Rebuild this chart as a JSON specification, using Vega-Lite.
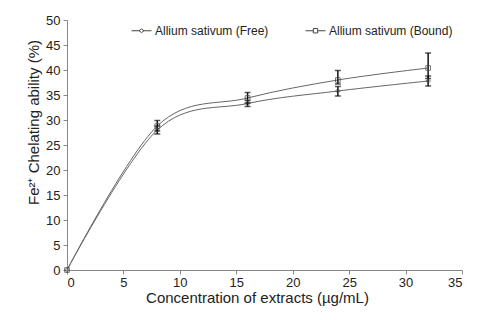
{
  "$schema": "https://vega.github.io/schema/vega-lite/v6.json",
  "width": 395,
  "height": 250,
  "autosize": {"type": "none"},
  "padding": {"left": 67, "top": 20, "right": 38, "bottom": 50},
  "background": "white",
  "config": {
    "font": "Liberation Sans",
    "view": {"stroke": null},
    "axis": {
      "grid": false,
      "domainColor": "#888888",
      "tickColor": "#888888",
      "tickSize": 4,
      "labelFontSize": 13,
      "labelColor": "#222222",
      "labelOverlap": false,
      "titleFontSize": 15,
      "titleFontWeight": "normal",
      "titleColor": "#222222"
    },
    "legend": {"labelFontSize": 12, "labelColor": "#222222"}
  },
  "data": {
    "values": [
      {"conc": 0, "series": "Allium sativum (Free)", "value": 0, "lo": 0, "hi": 0},
      {"conc": 8, "series": "Allium sativum (Free)", "value": 28.0, "lo": 27.2, "hi": 28.8},
      {"conc": 16, "series": "Allium sativum (Free)", "value": 33.3, "lo": 32.7, "hi": 33.9},
      {"conc": 24, "series": "Allium sativum (Free)", "value": 35.8, "lo": 34.8, "hi": 36.7},
      {"conc": 32, "series": "Allium sativum (Free)", "value": 37.8, "lo": 36.8, "hi": 38.8},
      {"conc": 0, "series": "Allium sativum (Bound)", "value": 0, "lo": 0, "hi": 0},
      {"conc": 8, "series": "Allium sativum (Bound)", "value": 28.8, "lo": 27.8, "hi": 29.9},
      {"conc": 16, "series": "Allium sativum (Bound)", "value": 34.4, "lo": 33.4, "hi": 35.5},
      {"conc": 24, "series": "Allium sativum (Bound)", "value": 38.0, "lo": 37.2, "hi": 39.9},
      {"conc": 32, "series": "Allium sativum (Bound)", "value": 40.4, "lo": 38.3, "hi": 43.4}
    ]
  },
  "encoding": {
    "x": {
      "field": "conc", "type": "quantitative",
      "scale": {"domain": [0, 35]},
      "axis": {"values": [0, 5, 10, 15, 20, 25, 30, 35], "title": "Concentration of extracts (µg/mL)", "titlePadding": 1, "labelPadding": 2, "titleX": 190}
    }
  },
  "layer": [
    {
      "mark": {"type": "line", "interpolate": "cardinal", "color": "#666666", "strokeWidth": 1},
      "encoding": {
        "y": {
          "field": "value", "type": "quantitative",
          "scale": {"domain": [0, 50]},
          "axis": {"values": [0, 5, 10, 15, 20, 25, 30, 35, 40, 45, 50], "tickCount": 11, "labelOverlap": false, "title": "Fe²⁺ Chelating ability (%)", "titlePadding": 4, "labelPadding": 3, "titleY": 102}
        },
        "detail": {"field": "series"}
      }
    },
    {
      "transform": [{"filter": "datum.conc > 0"}],
      "mark": {"type": "rule", "color": "#111111", "strokeWidth": 1.5},
      "encoding": {
        "y": {"field": "lo", "type": "quantitative", "scale": {"domain": [0, 50]},
          "axis": {"values": [0, 5, 10, 15, 20, 25, 30, 35, 40, 45, 50], "tickCount": 11, "labelOverlap": false, "title": "Fe²⁺ Chelating ability (%)", "titlePadding": 4, "labelPadding": 3, "titleY": 102}},
        "y2": {"field": "hi"}
      }
    },
    {
      "transform": [{"filter": "datum.conc > 0"}],
      "mark": {"type": "tick", "orient": "horizontal", "color": "#111111", "size": 6, "thickness": 1.5},
      "encoding": {"y": {"field": "lo", "type": "quantitative", "scale": {"domain": [0, 50]},
          "axis": {"values": [0, 5, 10, 15, 20, 25, 30, 35, 40, 45, 50], "tickCount": 11, "labelOverlap": false, "title": "Fe²⁺ Chelating ability (%)", "titlePadding": 4, "labelPadding": 3, "titleY": 102}}}
    },
    {
      "transform": [{"filter": "datum.conc > 0"}],
      "mark": {"type": "tick", "orient": "horizontal", "color": "#111111", "size": 6, "thickness": 1.5},
      "encoding": {"y": {"field": "hi", "type": "quantitative", "scale": {"domain": [0, 50]},
          "axis": {"values": [0, 5, 10, 15, 20, 25, 30, 35, 40, 45, 50], "tickCount": 11, "labelOverlap": false, "title": "Fe²⁺ Chelating ability (%)", "titlePadding": 4, "labelPadding": 3, "titleY": 102}}}
    },
    {
      "mark": {"type": "point", "filled": false, "color": "#444444", "strokeWidth": 1, "size": 22},
      "encoding": {
        "y": {"field": "value", "type": "quantitative", "scale": {"domain": [0, 50]},
          "axis": {"values": [0, 5, 10, 15, 20, 25, 30, 35, 40, 45, 50], "tickCount": 11, "labelOverlap": false, "title": "Fe²⁺ Chelating ability (%)", "titlePadding": 4, "labelPadding": 3, "titleY": 102}},
        "shape": {
          "field": "series", "type": "nominal",
          "scale": {"domain": ["Allium sativum (Free)", "Allium sativum (Bound)"], "range": ["diamond", "square"]},
          "legend": null
        }
      }
    },
    {
      "mark": {"type": "point", "filled": false, "opacity": 0, "color": "#444444", "strokeWidth": 1, "size": 400},
      "encoding": {
        "y": {"field": "value", "type": "quantitative", "scale": {"domain": [0, 50]},
          "axis": {"values": [0, 5, 10, 15, 20, 25, 30, 35, 40, 45, 50], "tickCount": 11, "labelOverlap": false, "title": "Fe²⁺ Chelating ability (%)", "titlePadding": 4, "labelPadding": 3, "titleY": 102}},
        "stroke": {
          "field": "series", "type": "nominal",
          "scale": {"domain": ["Allium sativum (Free)", "Allium sativum (Bound)"], "range": ["#444444", "#444444"]},
          "legend": null
        },
        "shape": {
          "field": "series", "type": "nominal",
          "scale": {"domain": ["Allium sativum (Free)", "Allium sativum (Bound)"], "range": ["M-1,0H-0.25M0.25,0H1M-0.25,0L0,-0.18L0.25,0L0,0.18Z", "M-1,0H-0.22M0.22,0H1M-0.22,-0.22H0.22V0.22H-0.22Z"]},
          "legend": {
            "title": null, "orient": "none", "direction": "horizontal",
            "legendX": 64, "legendY": 0,
            "symbolOpacity": 1, "symbolStrokeColor": "#444444", "symbolStrokeWidth": 1, "symbolFillColor": "transparent",
            "symbolSize": 400, "columnPadding": 34, "labelOffset": 3
          }
        }
      }
    }
  ],
  "resolve": {"scale": {"shape": "independent"}}
}
